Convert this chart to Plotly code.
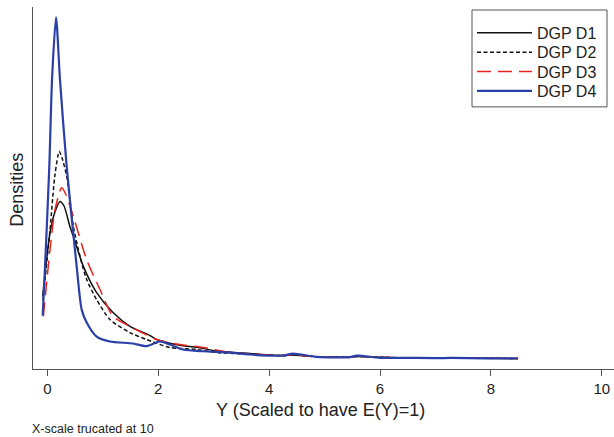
import plotly.graph_objects as go

# Density curves (x = scaled Y, y = density, arbitrary units)
d1_x = [-0.083, 0.049, 0.139, 0.229, 0.30, 0.409, 0.469, 0.65, 0.89, 1.185, 1.49, 1.85, 1.97, 2.39, 2.75, 3.05, 3.655, 4.25, 4.43, 4.86, 5.46, 5.58, 6.36, 7.27, 8.49]
d1_y = [0.402, 0.753, 0.869, 0.926, 0.902, 0.786, 0.733, 0.567, 0.422, 0.312, 0.236, 0.185, 0.163, 0.131, 0.117, 0.100, 0.086, 0.074, 0.077, 0.068, 0.066, 0.069, 0.062, 0.061, 0.058]

d2_x = [-0.078, 0.049, 0.139, 0.216, 0.265, 0.35, 0.409, 0.469, 0.59, 0.71, 0.89, 1.13, 1.49, 1.79, 2.21, 2.69, 3.05, 3.655, 4.25, 4.43, 4.86, 5.46, 5.58, 6.36, 7.27, 8.49]
d2_y = [0.38, 0.77, 1.075, 1.202, 1.167, 1.064, 0.93, 0.788, 0.622, 0.494, 0.383, 0.273, 0.201, 0.163, 0.119, 0.108, 0.091, 0.082, 0.074, 0.077, 0.068, 0.066, 0.069, 0.062, 0.061, 0.058]

d3_x = [-0.072, 0.049, 0.139, 0.26, 0.337, 0.469, 0.71, 0.95, 1.185, 1.49, 1.97, 2.39, 2.81, 3.295, 3.655, 4.25, 4.43, 4.86, 5.46, 5.58, 6.36, 7.27, 8.49]
d3_y = [0.291, 0.659, 0.88, 1.001, 0.963, 0.843, 0.604, 0.439, 0.291, 0.236, 0.163, 0.135, 0.119, 0.091, 0.083, 0.074, 0.077, 0.068, 0.066, 0.069, 0.062, 0.061, 0.058]

d4_x = [-0.083, -0.041, 0.036, 0.085, 0.157, 0.229, 0.35, 0.53, 0.62, 0.71, 0.89, 1.13, 1.545, 1.79, 2.03, 2.21, 2.45, 2.81, 3.295, 3.655, 4.25, 4.43, 4.86, 5.46, 5.58, 6.0, 6.36, 7.0, 7.27, 7.9, 8.49]
d4_y = [0.295, 0.566, 1.117, 1.597, 1.943, 1.597, 1.117, 0.566, 0.328, 0.257, 0.179, 0.152, 0.141, 0.126, 0.152, 0.135, 0.108, 0.098, 0.091, 0.080, 0.074, 0.085, 0.067, 0.066, 0.074, 0.062, 0.062, 0.060, 0.061, 0.059, 0.058]

series_names = ["DGP D1", "DGP D2", "DGP D3", "DGP D4"]
x_ticks = [0, 2, 4, 6, 8, 10]

FONT = "Liberation Sans, Arial, sans-serif"

# Plot area in pixels (used to place legend rows in paper coordinates)
W, H = 614, 437
ML, MR, MT, MB = 33, 0, 7, 67.5
PW, PH = W - ML - MR, H - MT - MB

def px_x(px):
    return (px - ML) / PW

def px_y(py):
    return (H - MB - py) / PH

fig = go.Figure()
styles = [
    dict(color="#111111", width=1.5, dash="solid"),
    dict(color="#111111", width=1.5, dash="4px,2.5px"),
    dict(color="#e8231e", width=1.5, dash="14px,7px"),
    dict(color="#2a3fa8", width=2.2, dash="solid"),
]
legend_ids = ["legend", "legend2", "legend3", "legend4"]
legend_rows_py = [33, 52.3, 71.6, 91]

for name, xs, ys, st, lid in zip(series_names, [d1_x, d2_x, d3_x, d4_x], [d1_y, d2_y, d3_y, d4_y], styles, legend_ids):
    fig.add_trace(go.Scatter(x=xs, y=ys, mode="lines", name=name, legend=lid,
                             line=dict(color=st["color"], width=st["width"], dash=st["dash"],
                                       shape="spline", smoothing=0.7)))

legend_common = dict(xanchor="left", yanchor="middle", bgcolor="rgba(0,0,0,0)",
                     borderwidth=0, itemwidth=55,
                     font=dict(family=FONT, size=16, color="#222"))
layout_legends = {}
for lid, py in zip(legend_ids, legend_rows_py):
    layout_legends[lid] = dict(x=px_x(472), y=px_y(py), **legend_common)

fig.update_layout(
    width=W, height=H,
    margin=dict(l=ML, r=MR, t=MT, b=MB),
    paper_bgcolor="white", plot_bgcolor="white",
    font=dict(family=FONT, size=14, color="#222"),
    showlegend=True,
    xaxis=dict(range=[-0.258, 10.22], tickvals=x_ticks, ticktext=[str(t) for t in x_ticks],
               showline=True, linecolor="#555", linewidth=1.3, ticks="outside", ticklen=6,
               tickcolor="#555", showgrid=False, zeroline=False,
               tickfont=dict(family=FONT, size=15, color="#222")),
    yaxis=dict(range=[0, 2.0], showline=True, linecolor="#555", linewidth=1.3,
               showticklabels=False, ticks="", showgrid=False, zeroline=False),
    shapes=[dict(type="rect", xref="paper", yref="paper",
                 x0=px_x(472), x1=px_x(607), y0=px_y(107), y1=px_y(10),
                 line=dict(color="#555", width=1), fillcolor="rgba(0,0,0,0)")],
    annotations=[
        dict(text="Densities", textangle=-90, x=px_x(17), y=px_y(190), xref="paper", yref="paper",
             xanchor="center", yanchor="middle", showarrow=False,
             font=dict(family=FONT, size=18, color="#222")),
        dict(text="Y (Scaled to have E(Y)=1)", x=px_x(320), y=px_y(411), xref="paper", yref="paper",
             xanchor="center", yanchor="middle", showarrow=False,
             font=dict(family=FONT, size=18, color="#222")),
        dict(text="X-scale trucated at 10", x=px_x(30), y=px_y(430), xref="paper", yref="paper",
             xanchor="left", yanchor="middle", showarrow=False,
             font=dict(family=FONT, size=12.5, color="#222")),
    ],
    **layout_legends,
)

fig.write_html("out.html")
